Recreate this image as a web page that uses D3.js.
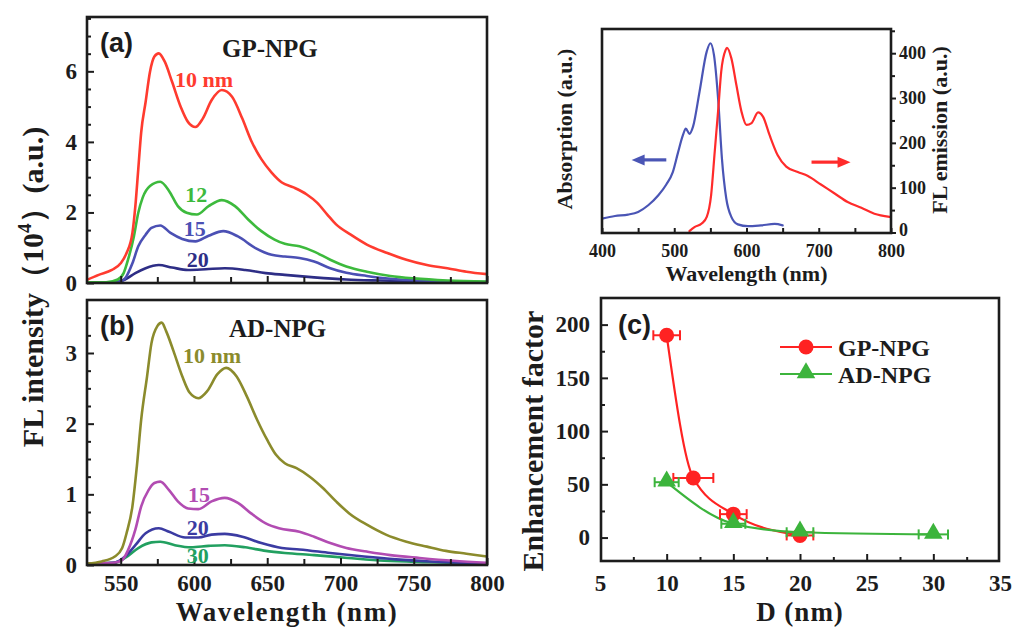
<!DOCTYPE html>
<html>
<head>
<meta charset="utf-8">
<script src="https://cdn.jsdelivr.net/npm/d3@7"></script>
<style>
  html, body { margin: 0; padding: 0; background: #fff; }
  svg { display: block; }
</style>
</head>
<body>
<svg id="chart" width="1013" height="628"></svg>
<script>
// ---------- (a) GP-NPG fluorescence spectra, intensity in 10^4 a.u. ----------
const gp10Wl  = [527,535,544,550,554,558,560,562,564,567,570,573,576,580,585,591,596,601,606,612,619,626,633,639,646,653,660,668,677,684,691,697,707,718,732,745,759,773,786,800];
const gp10Val = [0.09,0.23,0.37,0.56,0.85,1.42,2.18,3.23,4.28,5.13,5.99,6.42,6.51,6.28,5.71,4.99,4.56,4.42,4.66,5.18,5.47,5.28,4.66,4.04,3.51,3.13,2.85,2.71,2.51,2.28,1.94,1.66,1.37,1.09,0.85,0.66,0.51,0.42,0.32,0.25];
const gp12Wl  = [527,540,548,552,555,559,562,565,570,577,583,589,595,602,610,619,628,637,646,655,662,672,682,693,704,718,734,750,773,800];
const gp12Val = [0.02,0.02,0.10,0.28,0.66,1.32,1.99,2.42,2.75,2.87,2.61,2.18,1.99,1.94,2.18,2.35,2.18,1.80,1.47,1.23,1.11,1.04,0.89,0.66,0.47,0.32,0.20,0.13,0.07,0.04];
const gp15Wl  = [527,545,550,553,558,562,567,571,577,584,592,601,610,620,630,642,653,662,672,682,693,704,718,734,754,800];
const gp15Val = [0.02,0.02,0.05,0.13,0.56,1.04,1.37,1.56,1.63,1.42,1.25,1.18,1.34,1.47,1.32,0.99,0.80,0.75,0.71,0.61,0.42,0.29,0.20,0.12,0.07,0.03];
const gp20Wl  = [527,545,553,560,567,576,585,596,608,621,635,649,662,682,704,727,761,800];
const gp20Val = [0.01,0.02,0.10,0.28,0.42,0.51,0.44,0.37,0.39,0.42,0.37,0.28,0.23,0.16,0.10,0.07,0.04,0.02];

// ---------- (b) AD-NPG fluorescence spectra ----------
const ad10Wl  = [527,537,546,551,554,558,561,564,568,571,575,578,581,586,592,597,603,609,616,622,629,636,643,650,656,662,670,679,688,697,706,718,731,745,759,772,786,800];
const ad10Val = [0.02,0.05,0.12,0.24,0.45,0.83,1.39,2.06,2.67,3.14,3.38,3.43,3.31,3.03,2.67,2.44,2.36,2.46,2.70,2.79,2.67,2.39,2.06,1.77,1.56,1.44,1.37,1.25,1.09,0.90,0.73,0.57,0.43,0.33,0.26,0.20,0.16,0.12];
const ad15Wl  = [527,545,551,555,560,564,569,573,577,583,589,596,603,612,621,630,639,649,658,672,682,693,704,718,734,754,777,800];
const ad15Val = [0.02,0.03,0.07,0.21,0.50,0.83,1.06,1.16,1.18,1.06,0.90,0.80,0.79,0.90,0.95,0.88,0.73,0.59,0.52,0.47,0.40,0.31,0.24,0.19,0.14,0.10,0.06,0.03];
const ad20Wl  = [527,545,553,560,567,576,583,594,603,612,621,633,646,660,672,693,716,738,761,800];
const ad20Val = [0.02,0.03,0.12,0.28,0.45,0.52,0.47,0.39,0.39,0.43,0.44,0.40,0.31,0.24,0.22,0.17,0.12,0.08,0.05,0.02];
const ad30Wl  = [527,545,553,562,571,577,587,598,610,621,635,649,662,682,705,730,760,800];
const ad30Val = [0.02,0.03,0.10,0.24,0.32,0.33,0.28,0.25,0.27,0.28,0.25,0.20,0.17,0.14,0.10,0.06,0.04,0.02];

// Curve labels: [wavelength, intensity] where each label sits
const gpLabelText = ["10 nm", "12", "15", "20"];
const gpLabelPos  = [[587, 5.55], [594, 2.29], [593, 1.33], [595, 0.45]];
const adLabelText = ["10 nm", "15", "20", "30"];
const adLabelPos  = [[592.5, 2.86], [596, 0.89], [595, 0.42], [595, 0.03]];

// ---------- inset: absorption and emission of the dye ----------
const absWl   = [400,418,436,450,464,478,489,498,505,512,516,521,526,535,545,550,555,561,566,572,579,588,602,620,639,650];
const absVal  = [0.068,0.081,0.088,0.101,0.134,0.183,0.236,0.297,0.390,0.478,0.511,0.485,0.520,0.692,0.890,0.930,0.872,0.643,0.363,0.167,0.077,0.040,0.031,0.035,0.042,0.035];
const emWl    = [521,528,538,545,551,556,561,565,571,573,579,586,593,600,607,616,623,632,643,655,671,685,703,722,740,759,777,798];
const emVal   = [3,12,20,35,83,180,277,359,407,412,389,329,270,240,244,268,258,217,173,147,135,126,107,87,68,55,42,35];
const absArrow = [[489, 162], [441, 162]];
const emArrow  = [[690, 157], [744, 157]];

// ---------- (c) enhancement factor vs. D ----------
const gpD   = [10, 12, 15, 20];
const gpEF  = [190, 56, 22, 2];
const gpErr = [1.0, 1.5, 1.0, 1.0];
const adD   = [10, 15, 20, 30];
const adEF  = [52, 13, 5, 3];
const adErr = [0.9, 0.9, 1.0, 1.1];

// ---------- tick values ----------
const wlTicks     = [550, 600, 650, 700, 750, 800];
const wlMinor     = [575, 625, 675, 725, 775];
const aTicks      = [0, 2, 4, 6];
const aMinor      = [0.5, 1, 1.5, 2.5, 3, 3.5, 4.5, 5, 5.5, 6.5, 7, 7.5];
const bTicks      = [0, 1, 2, 3];
const bMinor      = [0.25, 0.5, 0.75, 1.25, 1.5, 1.75, 2.25, 2.5, 2.75, 3.25, 3.5];
const inWlTicks   = [400, 500, 600, 700, 800];
const inWlMinor   = [450, 550, 650, 750];
const emTicks     = [0, 100, 200, 300, 400];
const emMinor     = [50, 150, 250, 350, 450];
const dTicks      = [5, 10, 15, 20, 25, 30, 35];
const dMinor      = [7.5, 12.5, 17.5, 22.5, 27.5, 32.5];
const efTicks     = [0, 50, 100, 150, 200];
const efMinor     = [25, 75, 125, 175];

// ---------- styling ----------
const SERIF = "'Liberation Serif','Times New Roman',serif";
const SANS  = "'Liberation Sans',Arial,sans-serif";
const INK   = "#1c1c1c";
const C = {
  gp10: "#ff3b2f", gp12: "#3dba3d", gp15: "#4b50b4", gp20: "#2e2e86",
  ad10: "#8b8b2c", ad15: "#b24cb2", ad20: "#3b3ba2", ad30: "#22a060",
  abs: "#4a55b5", em: "#ff2b2b", cGP: "#ff2222", cAD: "#3cb43c"
};

const svg = d3.select("#chart");
svg.append("rect").attr("width", 1013).attr("height", 628).attr("fill", "#fff");

const frameA = { l: 87,  r: 487, t: 17,  b: 283 };
const frameB = { l: 87,  r: 487, t: 300, b: 565 };
const frameI = { l: 602, r: 891, t: 29,  b: 233 };
const frameC = { l: 601, r: 999, t: 298, b: 561 };

const xMain = d3.scaleLinear().domain([527, 800]).range([frameA.l, frameA.r]);
const yA = d3.scaleLinear().domain([0, 7.54]).range([frameA.b, frameA.t]);
const yB = d3.scaleLinear().domain([0, 3.75]).range([frameB.b, frameB.t]);
const xIn = d3.scaleLinear().domain([400, 800]).range([frameI.l, frameI.r]);
const yEm = d3.scaleLinear().domain([0, 454]).range([232.5, frameI.t]);
const yAbs = d3.scaleLinear().domain([0, 1]).range([232.5, frameI.t]);
const xD = d3.scaleLinear().domain([5, 35]).range([600, 1000]);
const yEF = d3.scaleLinear().domain([-22, 225]).range([frameC.b, frameC.t]);

const defs = svg.append("defs");
function clipFor(id, f) {
  defs.append("clipPath").attr("id", id)
    .append("rect").attr("x", f.l).attr("y", f.t).attr("width", f.r - f.l).attr("height", f.b - f.t);
  return `url(#${id})`;
}

function drawFrame(f) {
  svg.append("rect")
    .attr("x", f.l).attr("y", f.t).attr("width", f.r - f.l).attr("height", f.b - f.t)
    .attr("fill", "none").attr("stroke", INK).attr("stroke-width", 2.6);
}

function styleAxis(g, size) {
  g.attr("font-family", SERIF).attr("font-size", size).attr("font-weight", "bold").attr("color", INK);
  g.select(".domain").remove();
  g.selectAll(".tick line").attr("stroke-width", 2);
  return g;
}

function addAxis(axis, transform, size) {
  const g = svg.append("g").attr("transform", transform).call(axis);
  return styleAxis(g, size);
}

function drawSeries(clip, x, y, wl, val, color, width, curve) {
  const line = d3.line().x(d => x(d[0])).y(d => y(d[1])).curve(curve || d3.curveMonotoneX);
  svg.append("path")
    .attr("clip-path", clip)
    .attr("d", line(d3.zip(wl, val)))
    .attr("fill", "none").attr("stroke", color).attr("stroke-width", width)
    .attr("stroke-linejoin", "round").attr("stroke-linecap", "round");
}

// ======================= panel (a) =======================
const clipA = clipFor("clipA", frameA);
drawSeries(clipA, xMain, yA, gp20Wl, gp20Val, C.gp20, 2.6);
drawSeries(clipA, xMain, yA, gp15Wl, gp15Val, C.gp15, 2.6);
drawSeries(clipA, xMain, yA, gp12Wl, gp12Val, C.gp12, 2.6);
drawSeries(clipA, xMain, yA, gp10Wl, gp10Val, C.gp10, 2.6);

addAxis(d3.axisLeft(yA).tickValues(aTicks).tickSize(-7).tickPadding(10).tickFormat(d3.format("d")),
        `translate(${frameA.l},0)`, 23);
addAxis(d3.axisLeft(yA).tickValues(aMinor).tickSize(-4).tickFormat(""), `translate(${frameA.l},0)`, 23);
addAxis(d3.axisBottom(xMain).tickValues(wlTicks).tickSize(-7).tickFormat(""), `translate(0,${frameA.b})`, 23);
addAxis(d3.axisBottom(xMain).tickValues(wlMinor).tickSize(-6).tickFormat(""), `translate(0,${frameA.b})`, 23);
drawFrame(frameA);

const gpColors = [C.gp10, C.gp12, C.gp15, C.gp20];
svg.append("g").selectAll("text").data(gpLabelText).join("text")
  .attr("x", (d, i) => xMain(gpLabelPos[i][0]))
  .attr("y", (d, i) => yA(gpLabelPos[i][1]))
  .attr("fill", (d, i) => gpColors[i])
  .attr("font-family", SERIF).attr("font-weight", "bold").attr("font-size", 22)
  .text(d => d);

svg.append("text").attr("x", 100).attr("y", 52)
  .attr("font-family", SANS).attr("font-weight", "bold").attr("font-size", 27).attr("fill", INK)
  .text("(a)");
svg.append("text").attr("x", 222).attr("y", 57)
  .attr("font-family", SERIF).attr("font-weight", "bold").attr("font-size", 25).attr("fill", INK)
  .text("GP-NPG");

// ======================= panel (b) =======================
const clipB = clipFor("clipB", frameB);
drawSeries(clipB, xMain, yB, ad30Wl, ad30Val, C.ad30, 2.6);
drawSeries(clipB, xMain, yB, ad20Wl, ad20Val, C.ad20, 2.6);
drawSeries(clipB, xMain, yB, ad15Wl, ad15Val, C.ad15, 2.6);
drawSeries(clipB, xMain, yB, ad10Wl, ad10Val, C.ad10, 2.6);

addAxis(d3.axisLeft(yB).tickValues(bTicks).tickSize(-7).tickPadding(10).tickFormat(d3.format("d")),
        `translate(${frameB.l},0)`, 23);
addAxis(d3.axisLeft(yB).tickValues(bMinor).tickSize(-4).tickFormat(""), `translate(${frameB.l},0)`, 23);
addAxis(d3.axisBottom(xMain).tickValues(wlTicks).tickSize(-7).tickPadding(10).tickFormat(d3.format("d")),
        `translate(0,${frameB.b})`, 23);
addAxis(d3.axisBottom(xMain).tickValues(wlMinor).tickSize(-6).tickFormat(""), `translate(0,${frameB.b})`, 23);
drawFrame(frameB);

const adColors = [C.ad10, C.ad15, C.ad20, C.ad30];
svg.append("g").selectAll("text").data(adLabelText).join("text")
  .attr("x", (d, i) => xMain(adLabelPos[i][0]))
  .attr("y", (d, i) => yB(adLabelPos[i][1]))
  .attr("fill", (d, i) => adColors[i])
  .attr("font-family", SERIF).attr("font-weight", "bold").attr("font-size", 22)
  .text(d => d);

svg.append("text").attr("x", 100).attr("y", 335)
  .attr("font-family", SANS).attr("font-weight", "bold").attr("font-size", 27).attr("fill", INK)
  .text("(b)");
svg.append("text").attr("x", 229).attr("y", 337)
  .attr("font-family", SERIF).attr("font-weight", "bold").attr("font-size", 25).attr("fill", INK)
  .text("AD-NPG");

// shared axis titles for (a)/(b)
svg.append("text").attr("x", 287).attr("y", 621).attr("text-anchor", "middle")
  .attr("font-family", SERIF).attr("font-weight", "bold").attr("font-size", 27)
  .attr("letter-spacing", 1.6).attr("fill", INK)
  .text("Wavelength (nm)");

const yTitle = svg.append("text")
  .attr("transform", "translate(43,287) rotate(-90)").attr("text-anchor", "middle")
  .attr("font-family", SERIF).attr("font-weight", "bold").attr("font-size", 30).attr("fill", INK);
yTitle.append("tspan").text("FL intensity");
yTitle.append("tspan").text("（10");
yTitle.append("tspan").attr("dy", -12).attr("font-size", 19).text("4");
yTitle.append("tspan").attr("dy", 12).text("）");
yTitle.append("tspan").text("(a.u.)");

// ======================= inset =======================
const clipI = clipFor("clipI", frameI);
drawSeries(clipI, xIn, yAbs, absWl, absVal, C.abs, 2.2);
drawSeries(clipI, xIn, yEm, emWl, emVal, C.em, 2.2);

addAxis(d3.axisBottom(xIn).tickValues(inWlTicks).tickSize(-5).tickPadding(11).tickFormat(d3.format("d")),
        `translate(0,${frameI.b})`, 18);
addAxis(d3.axisBottom(xIn).tickValues(inWlMinor).tickSize(-5).tickFormat(""), `translate(0,${frameI.b})`, 18);
const emAxis = addAxis(d3.axisRight(yEm).tickValues(emTicks).tickSize(5).tickPadding(3).tickFormat(d3.format("d")),
        `translate(${frameI.r},0)`, 18);
// the zero label sits slightly high so it clears the "800" below it
emAxis.selectAll(".tick text").filter(d => d === 0).attr("dy", "0.15em");
addAxis(d3.axisRight(yEm).tickValues(emMinor.filter(v => v < 454)).tickSize(4).tickFormat(""),
        `translate(${frameI.r},0)`, 18);
drawFrame(frameI);

function arrow(pts, color) {
  const x0 = xIn(pts[0][0]), x1 = xIn(pts[1][0]);
  const y0 = yEm(pts[0][1]);
  const dir = Math.sign(x1 - x0);
  const head = 13;
  svg.append("line").attr("x1", x0).attr("y1", y0).attr("x2", x1 - dir * (head - 2)).attr("y2", y0)
    .attr("stroke", color).attr("stroke-width", 3.2);
  svg.append("path")
    .attr("d", `M${x1},${y0} L${x1 - dir * head},${y0 - 5.5} L${x1 - dir * head},${y0 + 5.5} Z`)
    .attr("fill", color);
}
arrow(absArrow, C.abs);
arrow(emArrow, C.em);

svg.append("text").attr("x", (frameI.l + frameI.r) / 2).attr("y", 281).attr("text-anchor", "middle")
  .attr("font-family", SERIF).attr("font-weight", "bold").attr("font-size", 22).attr("fill", INK)
  .text("Wavelength (nm)");
svg.append("text").attr("transform", "translate(572,129) rotate(-90)").attr("text-anchor", "middle")
  .attr("font-family", SERIF).attr("font-weight", "bold").attr("font-size", 22).attr("fill", INK)
  .text("Absorption (a.u.)");
svg.append("text").attr("transform", "translate(947,130) rotate(-90)").attr("text-anchor", "middle")
  .attr("font-family", SERIF).attr("font-weight", "bold").attr("font-size", 22).attr("fill", INK)
  .text("FL emission (a.u.)");

// ======================= panel (c) =======================
const clipC = clipFor("clipC", frameC);
const efLine = d3.line().x(d => xD(d[0])).y(d => yEF(d[1])).curve(d3.curveMonotoneX);

function errorBars(ds, efs, errs, color) {
  const g = svg.append("g").attr("stroke", color).attr("stroke-width", 2).attr("clip-path", clipC);
  ds.forEach((d, i) => {
    const y = yEF(efs[i]);
    const xl = xD(d - errs[i]), xr = xD(d + errs[i]);
    g.append("line").attr("x1", xl).attr("x2", xr).attr("y1", y).attr("y2", y);
    g.append("line").attr("x1", xl).attr("x2", xl).attr("y1", y - 5).attr("y2", y + 5);
    g.append("line").attr("x1", xr).attr("x2", xr).attr("y1", y - 5).attr("y2", y + 5);
  });
}

svg.append("path").attr("clip-path", clipC).attr("d", efLine(d3.zip(gpD, gpEF)))
  .attr("fill", "none").attr("stroke", C.cGP).attr("stroke-width", 2.2);
svg.append("path").attr("clip-path", clipC).attr("d", efLine(d3.zip(adD, adEF)))
  .attr("fill", "none").attr("stroke", C.cAD).attr("stroke-width", 2.2);
errorBars(gpD, gpEF, gpErr, C.cGP);
errorBars(adD, adEF, adErr, C.cAD);

svg.append("g").selectAll("circle").data(d3.zip(gpD, gpEF)).join("circle")
  .attr("cx", d => xD(d[0])).attr("cy", d => yEF(d[1])).attr("r", 7.5).attr("fill", C.cGP);
const tri = d3.symbol().type(d3.symbolTriangle).size(150);
svg.append("g").selectAll("path").data(d3.zip(adD, adEF)).join("path")
  .attr("transform", d => `translate(${xD(d[0])},${yEF(d[1]) - 1})`)
  .attr("d", tri).attr("fill", C.cAD);

addAxis(d3.axisLeft(yEF).tickValues(efTicks).tickSize(-7).tickPadding(11).tickFormat(d3.format("d")),
        `translate(${frameC.l},0)`, 23);
addAxis(d3.axisLeft(yEF).tickValues(efMinor).tickSize(-4).tickFormat(""), `translate(${frameC.l},0)`, 23);
addAxis(d3.axisBottom(xD).tickValues(dTicks.filter(v => v > 5 && v < 35)).tickSize(-7).tickFormat(""),
        `translate(0,${frameC.b})`, 23);
addAxis(d3.axisBottom(xD).tickValues(dTicks).tickSize(0).tickPadding(14).tickFormat(d3.format("d")),
        `translate(0,${frameC.b})`, 23);
addAxis(d3.axisBottom(xD).tickValues(dMinor).tickSize(-4).tickFormat(""), `translate(0,${frameC.b})`, 23);
drawFrame(frameC);

svg.append("text").attr("x", 618).attr("y", 334)
  .attr("font-family", SANS).attr("font-weight", "bold").attr("font-size", 27).attr("fill", INK)
  .text("(c)");

// legend
const legend = [
  { name: "GP-NPG", color: C.cGP, shape: "circle", y: 347 },
  { name: "AD-NPG", color: C.cAD, shape: "triangle", y: 374 }
];
legend.forEach(e => {
  svg.append("line").attr("x1", 780).attr("x2", 832).attr("y1", e.y).attr("y2", e.y)
    .attr("stroke", e.color).attr("stroke-width", 2.2);
  if (e.shape === "circle") {
    svg.append("circle").attr("cx", 806).attr("cy", e.y).attr("r", 7.5).attr("fill", e.color);
  } else {
    svg.append("path").attr("transform", `translate(806,${e.y - 1})`).attr("d", tri).attr("fill", e.color);
  }
  svg.append("text").attr("x", 838).attr("y", e.y + 8.5)
    .attr("font-family", SERIF).attr("font-weight", "bold").attr("font-size", 24).attr("fill", INK)
    .text(e.name);
});

svg.append("text").attr("x", (frameC.l + frameC.r) / 2).attr("y", 621).attr("text-anchor", "middle")
  .attr("font-family", SERIF).attr("font-weight", "bold").attr("font-size", 27)
  .attr("letter-spacing", 1).attr("fill", INK)
  .text("D (nm)");
svg.append("text").attr("transform", "translate(543,441) rotate(-90)").attr("text-anchor", "middle")
  .attr("font-family", SERIF).attr("font-weight", "bold").attr("font-size", 30).attr("fill", INK)
  .text("Enhancement factor");
</script>
</body>
</html>
